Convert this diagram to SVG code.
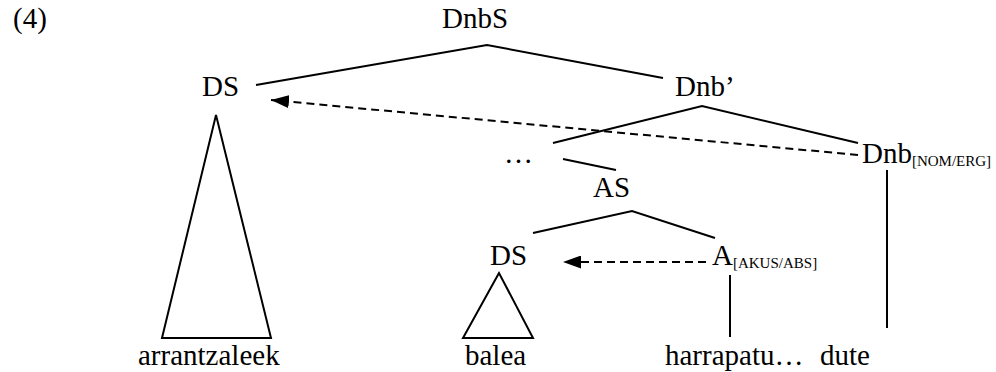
<svg xmlns="http://www.w3.org/2000/svg" width="996" height="372" viewBox="0 0 996 372" font-family="'Liberation Serif', 'DejaVu Serif', serif">
<style>
text{font-family:'Liberation Serif','DejaVu Serif',serif;font-size:29px;fill:#000}
.sub{font-size:15px}
.ln{stroke:#000;stroke-width:2;fill:none}
.ds{stroke:#000;stroke-width:2;fill:none;stroke-dasharray:8 5}
</style>
<defs>
<marker id="ah" markerUnits="userSpaceOnUse" markerWidth="18" markerHeight="13" viewBox="0 0 18 13" refX="18" refY="6.5" orient="auto">
<path d="M0,0 L18,6.5 L0,13 z" fill="#000"/>
</marker>
</defs>
<text x="13" y="28">(4)</text>
<g id="DnbS"><text x="442" y="28">DnbS</text></g>
<g id="DS1"><text x="202" y="96">DS</text></g>
<g id="Dnbp"><text x="675" y="96">Dnb’</text></g>
<g id="ell"><text x="504" y="163">…</text></g>
<g id="Dnb"><text x="862" y="163">Dnb<tspan class="sub" dy="3">[NOM/ERG]</tspan></text></g>
<g id="AS"><text x="593" y="197">AS</text></g>
<g id="DS2"><text x="490" y="265">DS</text></g>
<g id="A"><text x="712" y="265">A<tspan class="sub" dy="3">[AKUS/ABS]</tspan></text></g>
<g id="arrantzaleek"><text x="138" y="365">arrantzaleek</text></g>
<g id="balea"><text x="465" y="365">balea</text></g>
<g id="harrapatu"><text x="665" y="365">harrapatu…</text></g>
<g id="dute"><text x="820" y="365">dute</text></g>
<g id="connectors">
<polyline class="ln" points="256,85 487,45 663,78"/>
<polyline class="ln" points="553,143 702,106 858,143"/>
<line class="ln" x1="563" y1="159" x2="616" y2="170"/>
<polyline class="ln" points="533,233 632,211 715,238"/>
<polygon class="ln" points="216,115 162,338 271,338"/>
<polygon class="ln" points="499,273 463,338 533,338"/>
<line class="ln" x1="730" y1="275" x2="730" y2="337"/>
<line class="ln" x1="887" y1="170" x2="887" y2="328"/>
<line class="ds" x1="858" y1="155" x2="271" y2="100" marker-end="url(#ah)"/>
<line class="ds" x1="706" y1="262" x2="563" y2="262" marker-end="url(#ah)"/>
</g>
</svg>
